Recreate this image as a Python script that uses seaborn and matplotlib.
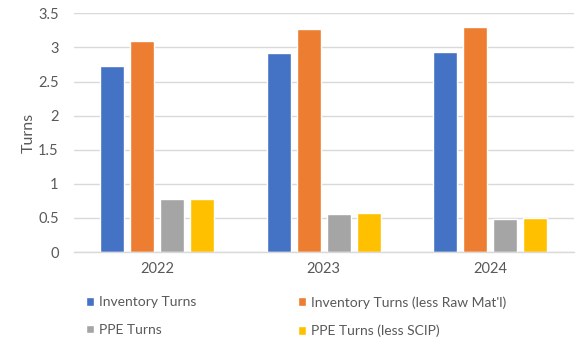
import matplotlib
matplotlib.use("Agg")
import matplotlib.pyplot as plt
import seaborn as sns
import pandas as pd

years = ["2022", "2023", "2024"]
series = ["Inventory Turns", "Inventory Turns (less Raw Mat'l)", "PPE Turns", "PPE Turns (less SCIP)"]
inventory_turns = [2.73, 2.92, 2.93]
inventory_turns_less_raw = [3.09, 3.27, 3.30]
ppe_turns = [0.78, 0.56, 0.48]
ppe_turns_less_scip = [0.78, 0.57, 0.50]
colors = ["#4472C4", "#ED7D31", "#A5A5A5", "#FFC000"]
yticks = [0, 0.5, 1, 1.5, 2, 2.5, 3, 3.5]
ytick_labels = ["0", "0.5", "1", "1.5", "2", "2.5", "3", "3.5"]

rows = []
for s, vals in zip(series, [inventory_turns, inventory_turns_less_raw, ppe_turns, ppe_turns_less_scip]):
    for y, v in zip(years, vals):
        rows.append({"Year": y, "Series": s, "Turns": v})
df = pd.DataFrame(rows)

sns.set_theme(style="white")
plt.rcParams["font.family"] = ["Lato", "DejaVu Sans"]
text_color = "#595959"

fig = plt.figure(figsize=(5.77, 3.44), dpi=100)
ax = fig.add_axes([74/577, 92/344, (573.5-74)/577, (252-13.3)/344])

sns.barplot(data=df, x="Year", y="Turns", hue="Series", hue_order=series,
            palette=colors, width=0.72, gap=0.2, saturation=1, ax=ax, legend=True)

handles, labels = ax.get_legend_handles_labels()
ax.get_legend().remove()

ax.set_ylim(0, 3.5)
ax.set_xlim(-0.5, 2.5)
ax.set_yticks(yticks)
ax.set_yticklabels(ytick_labels)
ax.yaxis.grid(True, color="#D9D9D9", linewidth=1)
ax.set_axisbelow(True)
for side in ["top", "right", "left"]:
    ax.spines[side].set_visible(False)
ax.spines["bottom"].set_color("#D9D9D9")
ax.spines["bottom"].set_linewidth(1)
ax.tick_params(axis="both", length=0, labelsize=10.5, labelcolor=text_color)
ax.tick_params(axis="y", pad=11)
ax.tick_params(axis="x", pad=7)
ax.set_xlabel("")
ax.set_ylabel("Turns", fontsize=11.5, color=text_color, labelpad=2)

common = dict(frameon=False, fontsize=10, handlelength=0.6, handleheight=0.6,
              handletextpad=0.35, labelspacing=1.15, borderaxespad=0, borderpad=0,
              labelcolor=text_color)
leg1 = fig.legend([handles[0], handles[2]], [labels[0], labels[2]],
                  loc="upper left", bbox_to_anchor=(86/577, 1 - 296/344), **common)
leg2 = fig.legend([handles[1], handles[3]], [labels[1], labels[3]],
                  loc="upper left", bbox_to_anchor=(298/577, 1 - 296/344), **common)

fig.savefig("out.png", dpi=100)
